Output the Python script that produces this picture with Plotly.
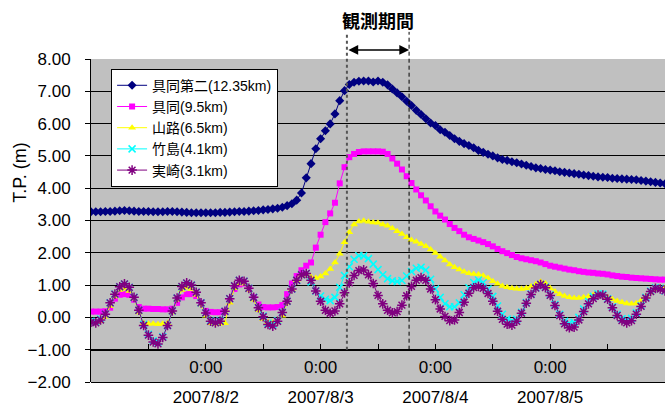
import pandas as pd
import plotly.graph_objects as go

# ---------------- data (hourly, 2007/8/1 0:00 .. 2007/8/6 0:00) ----------------
start_time = "2007-08-01 00:00"
n_hours = 121
times = pd.date_range(start_time, periods=n_hours, freq="h")

names = ["具同第二(12.35km)", "具同(9.5km)", "山路(6.5km)", "竹島(4.1km)", "実崎(3.1km)"]

gudo2 = [3.27, 3.27, 3.27, 3.28, 3.28, 3.29, 3.30, 3.31, 3.30, 3.29,
         3.28, 3.28, 3.28, 3.27, 3.27, 3.27, 3.28, 3.28, 3.27, 3.26,
         3.25, 3.24, 3.24, 3.24, 3.24, 3.24, 3.24, 3.25, 3.25, 3.26,
         3.27, 3.28, 3.28, 3.29, 3.30, 3.31, 3.33, 3.34, 3.36, 3.38,
         3.41, 3.46, 3.52, 3.63, 3.85, 4.32, 4.76, 5.22, 5.53, 5.78,
         5.99, 6.30, 6.71, 7.02, 7.21, 7.28, 7.31, 7.32, 7.32, 7.29,
         7.32, 7.28, 7.20, 7.07, 6.95, 6.83, 6.69, 6.56, 6.41, 6.28,
         6.15, 6.02, 5.94, 5.81, 5.73, 5.63, 5.53, 5.45, 5.38, 5.32,
         5.25, 5.17, 5.11, 5.05, 5.00, 4.94, 4.89, 4.86, 4.82, 4.79,
         4.75, 4.71, 4.67, 4.63, 4.61, 4.58, 4.56, 4.54, 4.51, 4.49,
         4.47, 4.45, 4.43, 4.41, 4.39, 4.37, 4.35, 4.34, 4.33, 4.31,
         4.30, 4.29, 4.28, 4.27, 4.26, 4.24, 4.22, 4.20, 4.18, 4.16, 4.14]

gudo = [0.18, 0.18, 0.18, 0.19, 0.30, 0.58, 0.70, 0.72, 0.70, 0.55,
        0.32, 0.27, 0.27, 0.26, 0.26, 0.25, 0.25, 0.27, 0.45, 0.62,
        0.72, 0.72, 0.66, 0.45, 0.20, 0.17, 0.16, 0.16, 0.18, 0.50,
        0.88, 1.02, 1.05, 0.88, 0.62, 0.40, 0.32, 0.31, 0.31, 0.32,
        0.38, 0.72, 1.05, 1.28, 1.46, 1.60, 1.70, 2.16, 2.56, 2.95,
        3.22, 3.55, 4.15, 4.65, 4.96, 5.06, 5.12, 5.14, 5.14, 5.14,
        5.14, 5.13, 5.06, 4.92, 4.76, 4.58, 4.37, 4.16, 3.96, 3.78,
        3.62, 3.44, 3.28, 3.15, 3.03, 2.89, 2.77, 2.67, 2.56, 2.48,
        2.43, 2.38, 2.33, 2.27, 2.20, 2.12, 2.05, 1.99, 1.93, 1.87,
        1.83, 1.80, 1.77, 1.74, 1.70, 1.65, 1.60, 1.57, 1.54, 1.51,
        1.48, 1.46, 1.43, 1.41, 1.39, 1.38, 1.36, 1.35, 1.33, 1.30,
        1.28, 1.26, 1.25, 1.23, 1.22, 1.21, 1.20, 1.19, 1.18, 1.17, 1.17]

yamaji = [-0.15, -0.18, -0.12, 0.02, 0.35, 0.65, 0.85, 0.88, 0.82, 0.58,
          0.15, -0.18, -0.20, -0.20, -0.21, -0.20, -0.18, 0.15, 0.55, 0.85,
          0.92, 0.88, 0.70, 0.40, 0.05, -0.18, -0.20, -0.20, -0.18, 0.45,
          0.90, 1.05, 1.05, 0.85, 0.55, 0.22, -0.05, -0.15, -0.16, -0.12,
          0.05, 0.45, 0.88, 1.15, 1.30, 1.32, 1.25, 1.22, 1.27, 1.36,
          1.50, 1.70, 1.97, 2.33, 2.64, 2.88, 2.97, 2.99, 2.96, 2.94,
          2.93, 2.88, 2.84, 2.76, 2.67, 2.58, 2.48, 2.40, 2.34, 2.27,
          2.20, 2.10, 1.99, 1.88, 1.76, 1.64, 1.55, 1.48, 1.41, 1.37,
          1.34, 1.33, 1.29, 1.22, 1.12, 1.04, 0.97, 0.93, 0.90, 0.89,
          0.88, 0.90, 0.96, 1.03, 1.10, 1.05, 0.90, 0.80, 0.72, 0.66,
          0.62, 0.60, 0.60, 0.62, 0.65, 0.69, 0.72, 0.68, 0.62, 0.56,
          0.51, 0.47, 0.43, 0.42, 0.44, 0.52, 0.65, 0.77, 0.85, 0.90, 0.90]

takeshima = [-0.12, -0.14, -0.05, 0.10, 0.45, 0.72, 0.95, 1.03, 0.93, 0.62,
             0.22, -0.22, -0.52, -0.72, -0.76, -0.60, -0.25, 0.20, 0.60, 0.95,
             1.06, 1.00, 0.78, 0.45, 0.14, -0.10, -0.15, -0.10, 0.19, 0.58,
             0.98, 1.15, 1.12, 0.90, 0.62, 0.30, 0.04, -0.18, -0.22, -0.10,
             0.16, 0.50, 0.88, 1.15, 1.32, 1.36, 1.10, 0.82, 0.66, 0.56,
             0.52, 0.62, 0.93, 1.30, 1.57, 1.80, 1.91, 1.90, 1.82, 1.65,
             1.48, 1.32, 1.20, 1.13, 1.11, 1.14, 1.28, 1.42, 1.52, 1.55,
             1.47, 1.18, 0.88, 0.62, 0.42, 0.33, 0.33, 0.45, 0.70, 0.92,
             1.08, 1.16, 1.08, 0.88, 0.65, 0.35, 0.10, -0.05, -0.10, -0.06,
             0.16, 0.46, 0.72, 0.92, 1.02, 0.94, 0.70, 0.40, 0.10, -0.12,
             -0.18, -0.16, 0.00, 0.26, 0.50, 0.65, 0.73, 0.72, 0.58, 0.33,
             0.10, -0.04, -0.08, -0.03, 0.14, 0.36, 0.62, 0.82, 0.92, 0.90, 0.82]

sanezaki = [-0.15, -0.17, -0.08, 0.10, 0.45, 0.72, 0.95, 1.04, 0.93, 0.62,
            0.22, -0.25, -0.55, -0.76, -0.82, -0.62, -0.25, 0.20, 0.60, 0.96,
            1.07, 1.00, 0.78, 0.45, 0.14, -0.12, -0.17, -0.12, 0.19, 0.58,
            0.98, 1.15, 1.12, 0.90, 0.62, 0.30, 0.02, -0.22, -0.27, -0.12,
            0.15, 0.50, 0.88, 1.15, 1.32, 1.36, 1.15, 0.82, 0.50, 0.22,
            0.13, 0.20, 0.42, 0.76, 1.07, 1.30, 1.45, 1.47, 1.32, 1.05,
            0.68, 0.42, 0.22, 0.14, 0.18, 0.38, 0.67, 0.96, 1.15, 1.23,
            1.15, 0.88, 0.55, 0.26, 0.03, -0.10, -0.08, 0.15, 0.47, 0.75,
            0.92, 0.96, 0.90, 0.74, 0.50, 0.19, -0.06, -0.21, -0.24, -0.12,
            0.13, 0.44, 0.71, 0.91, 1.02, 0.92, 0.68, 0.37, 0.06, -0.20,
            -0.32, -0.30, -0.08, 0.18, 0.42, 0.58, 0.69, 0.69, 0.56, 0.30,
            0.06, -0.10, -0.17, -0.10, 0.10, 0.34, 0.60, 0.80, 0.90, 0.88, 0.82]

# axis / labels
x_range = ["2007-08-01 00:00", "2007-08-06 00:00"]
y_range = [-2, 8]
x_axis_cross = -1
day_ticks = ["2007-08-02", "2007-08-03", "2007-08-04", "2007-08-05"]
time_labels = ["0:00", "0:00", "0:00", "0:00"]
date_labels = ["2007/8/2", "2007/8/3", "2007/8/4", "2007/8/5"]
obs_start, obs_end = "2007-08-03 05:30", "2007-08-03 18:30"
obs_label = "観測期間"
y_title = "T.P. (m)"

# ---------------- figure ----------------
styles = [
    dict(color="#000080", symbol="diamond", size=7),
    dict(color="#FF00FF", symbol="square", size=6),
    dict(color="#FFFF00", symbol="triangle-up", size=7),
    dict(color="#00FFFF", symbol="x-thin-open", size=7),
    dict(color="#800080", symbol="asterisk-open", size=8),
]
series = [gudo2, gudo, yamaji, takeshima, sanezaki]

fig = go.Figure()
for i, (nm, vals, st) in enumerate(zip(names, series, styles)):
    open_sym = st["symbol"].endswith("open")
    fig.add_trace(go.Scatter(
        x=times, y=vals, name=nm, mode="lines+markers",
        xaxis="x2" if i == len(series) - 1 else "x",
        line=dict(color=st["color"], width=1),
        marker=dict(symbol=st["symbol"], size=st["size"], color=st["color"],
                    line=dict(color=st["color"], width=1.5 if open_sym else 0)),
    ))

mid_obs = pd.Timestamp(obs_start) + (pd.Timestamp(obs_end) - pd.Timestamp(obs_start)) / 2
cross_pos = (x_axis_cross - y_range[0]) / (y_range[1] - y_range[0])

base_font = "Liberation Sans, Arial, Noto Sans CJK JP, sans-serif"

fig.update_layout(
    width=665, height=412,
    margin=dict(l=91, r=0, t=59, b=30, autoexpand=False),
    paper_bgcolor="white", plot_bgcolor="#C0C0C0",
    font=dict(family=base_font, color="black", size=17),
    showlegend=True,
    legend=dict(x=0.035, y=0.97, xanchor="left", yanchor="top",
                bgcolor="white", bordercolor="black", borderwidth=1,
                font=dict(size=14, family=base_font), tracegroupgap=0),
    xaxis=dict(type="date", range=x_range, anchor="free", position=cross_pos,
               automargin=False,
               showline=True, linecolor="black", linewidth=1,
               showgrid=False, zeroline=False,
               tickmode="array", tickvals=day_ticks, ticktext=time_labels,
               ticks="inside", ticklen=6, tickcolor="black", ticklabelstandoff=2,
               minor=dict(tickmode="linear", tick0="2007-08-01 12:00", dtick=86400000,
                          ticks="inside", ticklen=6, tickcolor="black", showgrid=False),
               tickfont=dict(size=17)),
    xaxis2=dict(type="date", range=x_range, overlaying="x", anchor="free", position=0,
                automargin=False,
                side="bottom", showline=True, linecolor="black", linewidth=1,
                showgrid=False, zeroline=False, ticks="",
                tickmode="array", tickvals=day_ticks, ticktext=date_labels,
                ticklabelstandoff=0, tickfont=dict(size=17)),
    yaxis=dict(range=y_range, dtick=1, tick0=0, tickformat=".2f", automargin=False,
               showgrid=True, gridcolor="#000000", gridwidth=1, zeroline=False,
               showline=True, linecolor="black", linewidth=1,
               ticks="outside", ticklen=5, tickcolor="black", ticklabelstandoff=11,
               tickfont=dict(size=17)),
)

# y-axis title, placed left of the tick labels
fig.add_annotation(x=-0.124, y=0.65, xref="paper", yref="paper", text=y_title,
                   textangle=-90, showarrow=False, xanchor="center", yanchor="middle",
                   font=dict(size=18, family=base_font, color="black"))

# observation period markers
fig.add_shape(type="line", xref="x", yref="paper", x0=obs_start, x1=obs_start,
              y0=cross_pos, y1=1.084, line=dict(color="#555555", width=2, dash="dot"))
fig.add_shape(type="line", xref="x", yref="paper", x0=obs_end, x1=obs_end,
              y0=cross_pos, y1=1.084, line=dict(color="black", width=1, dash="4px,3px"))
fig.add_annotation(x=obs_end, y=1.028, xref="x", yref="paper",
                   ax=obs_start, ay=0, axref="x", ayref="pixel",
                   text="", showarrow=True, arrowhead=2, arrowside="end+start",
                   arrowsize=1.3, arrowwidth=1.5, arrowcolor="black")
fig.add_annotation(x=mid_obs, y=1.121, xref="x", yref="paper", text="<b>" + obs_label + "</b>",
                   showarrow=False, yanchor="middle",
                   font=dict(size=18, family="Noto Sans CJK JP", color="black"))

# remove the default page margin so the 665x412 figure fills the window exactly
fig.write_html("out.html",
               config={"displayModeBar": False},
               post_script="document.body.style.margin='0';document.body.style.overflow='hidden';")
